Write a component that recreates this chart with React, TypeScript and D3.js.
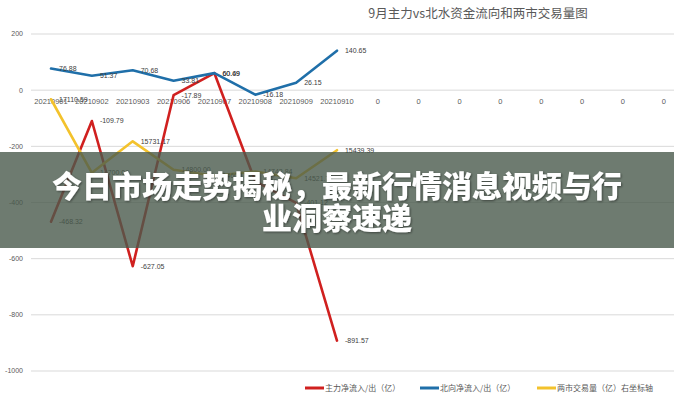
import React from 'react';
import * as d3 from 'd3';

const categories = ['20210901','20210902','20210903','20210906','20210907','20210908','20210909','20210910','0','0','0','0','0','0','0','0'];
const mainFlow = [-468.32, -109.79, -627.05, -17.89, 60.49, -325.0, -401.12, -891.57];
const northFlow = [76.88, 51.37, 70.68, 33.81, 60.69, -16.18, 26.15, 140.65];
const turnover = [17110.59, 14700.0, 15731.17, 14800.0, 14600.0, 14743.84, 14521.74, 15439.39];
const leftTicks = [200, 0, -200, -400, -600, -800, -1000];
const legendNames = ['主力净流入/出（亿）', '北向净流入/出（亿）', '两市交易量（亿）右坐标轴'];
const title = '9月主力vs北水资金流向和两市交易量图';
const bannerLines = ['今日市场走势揭秘，最新行情消息视频与行', '业洞察速递'];

const W = 674, H = 400;
const RED = '#d0201f', BLUE = '#1f6fa9', YEL = '#f3c22c';
const NUM_FONT = '"Liberation Sans", "DejaVu Sans", sans-serif';
const CJK_FONT = '"Noto Sans CJK SC", sans-serif';

export default function App() {
  const x = d3.scaleBand<number>().domain(d3.range(categories.length)).range([30.6, 684.2]);
  const cx = (i: number) => (x(i) as number) + x.bandwidth() / 2;
  const y = d3.scaleLinear().domain([-1000, 200]).range([371, 34]);
  const y2 = d3.scaleLinear().domain([8200, 19250]).range([371, 34]);

  const lineL = d3.line<number>().x((_, i) => cx(i)).y(d => y(d));
  const lineR = d3.line<number>().x((_, i) => cx(i)).y(d => y2(d));

  const series = [
    { vals: mainFlow, path: lineL(mainFlow), color: RED, ys: mainFlow.map(v => y(v)) },
    { vals: northFlow, path: lineL(northFlow), color: BLUE, ys: northFlow.map(v => y(v)) },
    { vals: turnover, path: lineR(turnover), color: YEL, ys: turnover.map(v => y2(v)) },
  ];

  const legendX = [305, 420, 537];

  return (
    <svg width={W} height={H} style={{ position: 'absolute', left: 0, top: 0, background: '#fff' }}>
      <defs>
        <filter id="ts" x="-5%" y="-20%" width="110%" height="140%">
          <feDropShadow dx="1" dy="1" stdDeviation="0.8" floodColor="#000" floodOpacity="0.45" />
        </filter>
      </defs>
      <rect width={W} height={H} fill="#fff" />
      <text x={478} y={18} textAnchor="middle" fontFamily={CJK_FONT} fontSize={12.5} fill="#595959">{title}</text>
      {leftTicks.map(t => (
        <g key={t}>
          <line x1={31} x2={W} y1={y(t)} y2={y(t)} stroke="#d9d9d9" strokeWidth={1} />
          <text x={23} y={y(t)} dy="0.35em" textAnchor="end" fontFamily={NUM_FONT} fontSize={7} fill="#595959">{t}</text>
        </g>
      ))}
      {categories.map((c, i) => (
        <text key={i} x={cx(i)} y={101} dy="0.35em" textAnchor="middle" fontFamily={NUM_FONT} fontSize={7.5} fill="#595959">{c}</text>
      ))}
      {series.map((s, k) => (
        <path key={k} d={s.path || ''} fill="none" stroke={s.color} strokeWidth={2.6} strokeLinejoin="round" strokeLinecap="round" />
      ))}
      {series.map((s, k) => s.vals.map((v, i) => (
        <text key={k + '-' + i} x={cx(i) + 8} y={s.ys[i]} dy="0.35em" fontFamily={NUM_FONT} fontSize={7} fill="#404040">{v.toFixed(2)}</text>
      )))}
      {legendNames.map((n, k) => (
        <g key={n}>
          <line x1={legendX[k]} x2={legendX[k] + 19} y1={388} y2={388} stroke={series[k].color} strokeWidth={3} />
          <text x={legendX[k] + 20} y={388} dy="0.35em" fontFamily={CJK_FONT} fontSize={8} fill="#595959">{n}</text>
        </g>
      ))}
      <rect x={0} y={152} width={W} height={96} fill="#4a5a4c" opacity={0.8} />
      {bannerLines.map((l, i) => (
        <text key={i} x={337} y={186 + i * 32} dy="0.36em" textAnchor="middle" fontFamily={CJK_FONT} fontWeight={900} fontSize={30} fill="#fff" filter="url(#ts)">{l}</text>
      ))}
    </svg>
  );
}
